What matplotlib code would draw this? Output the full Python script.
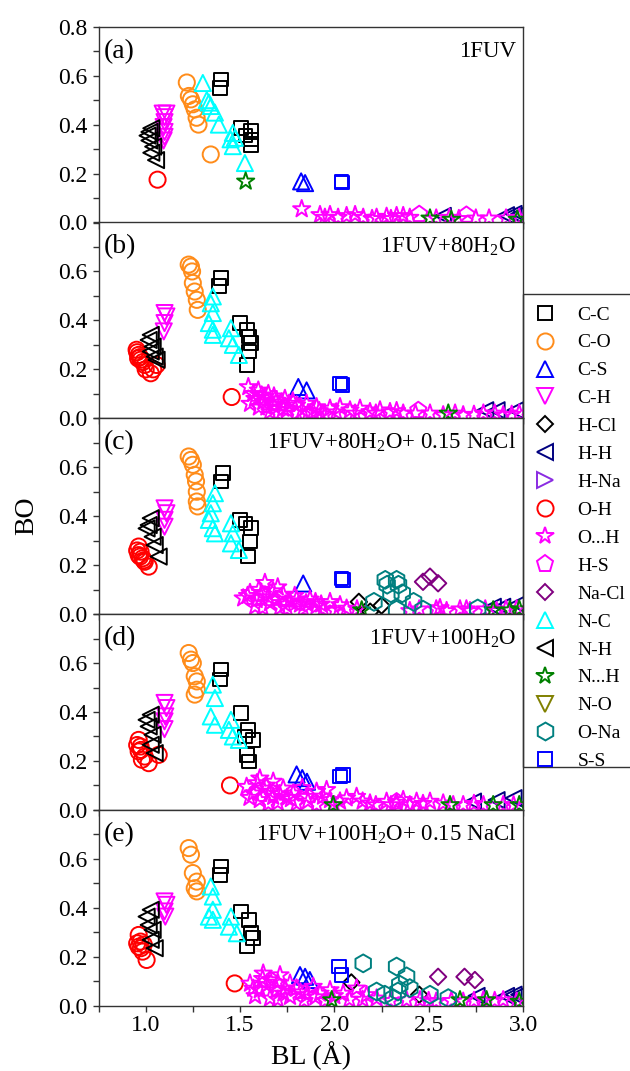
"""
Bond order vs bond length for 1FUV in vacuum, water and saline water
"""
import matplotlib
matplotlib.use('Agg')
import matplotlib.pyplot as plt
from matplotlib.lines import Line2D
from matplotlib.patches import Rectangle
from matplotlib.ticker import MultipleLocator, FormatStrFormatter

plt.rcParams['font.family'] = ['Liberation Serif', 'DejaVu Serif']
plt.rcParams['mathtext.fontset'] = 'custom'
plt.rcParams['mathtext.rm'] = 'Liberation Serif'
plt.rcParams['mathtext.it'] = 'Liberation Serif:italic'

PANEL_TAGS = ['(a)', '(b)', '(c)', '(d)', '(e)']
SYSTEMS = ['1FUV', '1FUV+80H$_2$O', '1FUV+80H$_2$O+ 0.15 NaCl',
           '1FUV+100H$_2$O', '1FUV+100H$_2$O+ 0.15 NaCl']

BONDS = ['C-C', 'C-O', 'C-S', 'C-H', 'H-Cl', 'H-H', 'H-Na', 'O-H', 'O...H',
         'H-S', 'Na-Cl', 'N-C', 'N-H', 'N...H', 'N-O', 'O-Na', 'S-S']

# (BL, BO) pairs, one list per panel (a)..(e)
CC = [
    [(1.40, 0.585), (1.395, 0.55), (1.505, 0.387), (1.53, 0.355), (1.558, 0.375), (1.558, 0.34), (1.558, 0.315)],
    [(1.40, 0.573), (1.39, 0.54), (1.50, 0.389), (1.537, 0.362), (1.548, 0.334), (1.558, 0.307), (1.548, 0.273), (1.537, 0.218)],
    [(1.41, 0.576), (1.40, 0.542), (1.50, 0.385), (1.53, 0.371), (1.558, 0.351), (1.552, 0.296), (1.543, 0.235)],
    [(1.40, 0.573), (1.395, 0.532), (1.505, 0.396), (1.543, 0.327), (1.526, 0.30), (1.569, 0.286), (1.537, 0.225), (1.548, 0.198)],
    [(1.40, 0.569), (1.395, 0.535), (1.505, 0.385), (1.548, 0.351), (1.558, 0.296), (1.537, 0.241), (1.569, 0.276)],
]
CO = [
    [(1.218, 0.572), (1.229, 0.517), (1.24, 0.503), (1.25, 0.483), (1.26, 0.462), (1.27, 0.428), (1.28, 0.40), (1.345, 0.278)],
    [(1.228, 0.628), (1.24, 0.62), (1.246, 0.60), (1.25, 0.553), (1.26, 0.518), (1.271, 0.484), (1.276, 0.443)],
    [(1.228, 0.644), (1.24, 0.63), (1.25, 0.61), (1.26, 0.569), (1.267, 0.542), (1.271, 0.50), (1.271, 0.46), (1.276, 0.44)],
    [(1.228, 0.641), (1.24, 0.614), (1.25, 0.60), (1.26, 0.546), (1.271, 0.525), (1.271, 0.491), (1.26, 0.471)],
    [(1.228, 0.644), (1.24, 0.617), (1.25, 0.542), (1.271, 0.507), (1.26, 0.48), (1.271, 0.467)],
]
CS = [
    [(1.824, 0.168), (1.845, 0.161)],
    [(1.809, 0.128), (1.853, 0.114)],
    [(1.835, 0.125)],
    [(1.80, 0.145), (1.83, 0.13), (1.855, 0.115)],
    [(1.818, 0.125), (1.845, 0.118), (1.87, 0.105)],
]
CH = [
    [(1.09, 0.445), (1.11, 0.445), (1.10, 0.43), (1.10, 0.41), (1.095, 0.39), (1.10, 0.37), (1.10, 0.35), (1.095, 0.335)],
    [(1.10, 0.43), (1.11, 0.416), (1.10, 0.389), (1.096, 0.355)],
    [(1.10, 0.432), (1.11, 0.412), (1.10, 0.385), (1.10, 0.357)],
    [(1.10, 0.437), (1.11, 0.416), (1.104, 0.382), (1.10, 0.362), (1.10, 0.33)],
    [(1.10, 0.426), (1.11, 0.412), (1.10, 0.385), (1.104, 0.364)],
]
HCL = [
    [],
    [],
    [(2.13, 0.05), (2.25, 0.035), (2.19, 0.01)],
    [],
    [(2.09, 0.095), (2.45, 0.045)],
]
HH = [
    [(2.575, 0.027), (2.91, 0.03), (2.95, 0.035), (2.98, 0.035)],
    [(2.80, 0.033), (2.86, 0.033), (2.96, 0.033)],
    [(2.84, 0.03), (2.89, 0.03), (2.97, 0.04)],
    [(2.735, 0.034), (2.86, 0.04), (2.95, 0.048)],
    [(2.754, 0.04), (2.91, 0.04), (2.95, 0.045), (2.98, 0.045)],
]
HNA = [[], [], [], [], []]
OH = [
    [(1.063, 0.175)],
    [(0.952, 0.28), (0.963, 0.259), (0.973, 0.239), (0.995, 0.218), (1.027, 0.184), (1.058, 0.218), (0.96, 0.245),
     (0.955, 0.27), (0.97, 0.25), (0.985, 0.23), (1.0, 0.2), (1.04, 0.2), (1.456, 0.087)],
    [(0.963, 0.276), (0.973, 0.255), (0.963, 0.241), (0.984, 0.228), (0.995, 0.214), (1.016, 0.194), (0.955, 0.26),
     (0.97, 0.235), (0.99, 0.22)],
    [(0.963, 0.286), (0.973, 0.259), (0.963, 0.239), (0.995, 0.218), (1.016, 0.191), (1.069, 0.225), (0.98, 0.205),
     (0.955, 0.265), (0.975, 0.245), (1.447, 0.10)],
    [(0.963, 0.289), (0.973, 0.262), (0.963, 0.241), (0.984, 0.221), (1.005, 0.187), (0.955, 0.255), (0.975, 0.235),
     (0.99, 0.25), (1.472, 0.091)],
]
OdH = [
    [(1.827, 0.055), (1.924, 0.031), (1.977, 0.031), (2.065, 0.027), (2.11, 0.031), (2.153, 0.02), (2.224, 0.02),
     (2.277, 0.024), (2.33, 0.027), (2.365, 0.027), (2.40, 0.02), (2.54, 0.017), (2.61, 0.02), (2.66, 0.015),
     (2.75, 0.017), (2.82, 0.017), (2.91, 0.017), (2.98, 0.02), (1.95, 0.02), (2.02, 0.02), (2.20, 0.015), (2.30, 0.015)],
    [(1.544, 0.128), (1.597, 0.114), (1.65, 0.10), (1.615, 0.094), (1.553, 0.06), (1.579, 0.08), (1.623, 0.067),
     (1.694, 0.073), (1.738, 0.08), (1.676, 0.053), (1.729, 0.04), (1.80, 0.053), (1.853, 0.06), (1.906, 0.046),
     (1.888, 0.026), (1.977, 0.04), (2.03, 0.046), (2.083, 0.033), (2.136, 0.04), (2.189, 0.026), (2.242, 0.033),
     (2.295, 0.026), (2.365, 0.02), (2.507, 0.02), (2.577, 0.013), (2.683, 0.013), (2.79, 0.02), (2.895, 0.013),
     (2.98, 0.02), (1.80, 0.02), (1.659, 0.026), (1.60, 0.045), (1.70, 0.02), (1.76, 0.06), (1.83, 0.035),
     (1.95, 0.015), (2.43, 0.02), (2.64, 0.02), (2.74, 0.015), (2.85, 0.02), (2.94, 0.015),
     (1.57, 0.10), (1.63, 0.085), (1.68, 0.09), (1.72, 0.065), (1.78, 0.07), (1.64, 0.045), (1.75, 0.035),
     (1.86, 0.02), (1.92, 0.03), (2.01, 0.025), (2.11, 0.02), (2.22, 0.02), (2.33, 0.03)],
    [(1.632, 0.128), (1.553, 0.087), (1.517, 0.065), (1.588, 0.058), (1.676, 0.094), (1.729, 0.08), (1.659, 0.046),
     (1.765, 0.053), (1.818, 0.04), (1.871, 0.06), (1.906, 0.033), (1.977, 0.05), (2.03, 0.037), (2.065, 0.023),
     (1.712, 0.026), (1.835, 0.02), (1.941, 0.02), (2.54, 0.02), (2.595, 0.013), (2.666, 0.02), (2.719, 0.013),
     (2.86, 0.013), (2.966, 0.02), (2.40, 0.013), (1.60, 0.10), (1.58, 0.03), (1.65, 0.07), (1.70, 0.11),
     (1.79, 0.075), (1.85, 0.045), (1.75, 0.02), (2.0, 0.015), (2.12, 0.02), (2.45, 0.02), (2.80, 0.02), (2.91, 0.02),
     (1.54, 0.075), (1.62, 0.08), (1.69, 0.06), (1.74, 0.04), (1.62, 0.025), (1.80, 0.06), (1.90, 0.05),
     (1.93, 0.04), (2.56, 0.025), (2.70, 0.02)],
    [(1.605, 0.129), (1.535, 0.095), (1.676, 0.116), (1.57, 0.068), (1.623, 0.088), (1.729, 0.088), (1.676, 0.054),
     (1.782, 0.068), (1.853, 0.054), (1.906, 0.075), (1.959, 0.082), (1.977, 0.041), (2.065, 0.048), (2.118, 0.054),
     (2.189, 0.027), (2.277, 0.034), (2.365, 0.041), (2.436, 0.034), (2.507, 0.034), (2.577, 0.027), (2.683, 0.02),
     (2.79, 0.02), (2.895, 0.02), (1.80, 0.027), (1.906, 0.02), (1.605, 0.041), (1.55, 0.05), (1.64, 0.10),
     (1.70, 0.03), (1.75, 0.05), (1.83, 0.09), (2.0, 0.02), (2.15, 0.035), (2.22, 0.02), (2.30, 0.02), (2.40, 0.02),
     (2.63, 0.02), (2.74, 0.025), (2.95, 0.02),
     (1.59, 0.11), (1.66, 0.075), (1.71, 0.065), (1.77, 0.045), (1.65, 0.025), (1.86, 0.035), (1.94, 0.055),
     (2.03, 0.035), (2.33, 0.03), (2.47, 0.025)],
    [(1.623, 0.132), (1.712, 0.125), (1.553, 0.091), (1.659, 0.105), (1.765, 0.091), (1.605, 0.064), (1.694, 0.064),
     (1.80, 0.071), (1.888, 0.078), (1.924, 0.05), (1.853, 0.044), (1.765, 0.037), (1.659, 0.03), (1.977, 0.064),
     (2.047, 0.05), (2.118, 0.071), (2.171, 0.044), (2.224, 0.03), (2.383, 0.023), (2.454, 0.023), (2.54, 0.017),
     (2.683, 0.017), (2.79, 0.023), (2.895, 0.023), (2.966, 0.017), (1.58, 0.04), (1.62, 0.11), (1.73, 0.05),
     (1.84, 0.02), (1.95, 0.02), (2.08, 0.025), (2.30, 0.02), (2.62, 0.02), (2.74, 0.02), (2.85, 0.02),
     (1.57, 0.07), (1.64, 0.085), (1.70, 0.095), (1.74, 0.07), (1.82, 0.055), (1.90, 0.035), (1.70, 0.025),
     (2.00, 0.04), (2.15, 0.025), (2.50, 0.02)],
]
HS = [
    [(2.45, 0.034), (2.70, 0.031)],
    [(2.445, 0.033)],
    [],
    [(2.33, 0.034)],
    [],
]
NACL = [
    [],
    [],
    [(2.47, 0.132), (2.507, 0.153), (2.55, 0.126)],
    [],
    [(2.55, 0.118), (2.69, 0.118), (2.745, 0.105)],
]
NC = [
    [(1.303, 0.57), (1.324, 0.50), (1.335, 0.49), (1.345, 0.476), (1.367, 0.449), (1.388, 0.40), (1.462, 0.366),
     (1.473, 0.346), (1.45, 0.34), (1.462, 0.312), (1.526, 0.243)],
    [(1.356, 0.498), (1.345, 0.47), (1.356, 0.43), (1.335, 0.389), (1.356, 0.362), (1.356, 0.341), (1.452, 0.368),
     (1.441, 0.327), (1.462, 0.30), (1.494, 0.259)],
    [(1.367, 0.494), (1.356, 0.453), (1.345, 0.412), (1.335, 0.385), (1.356, 0.351), (1.367, 0.33), (1.452, 0.371),
     (1.462, 0.33), (1.452, 0.289), (1.494, 0.262)],
    [(1.356, 0.512), (1.367, 0.457), (1.345, 0.382), (1.367, 0.348), (1.452, 0.368), (1.441, 0.327), (1.462, 0.30),
     (1.494, 0.286)],
    [(1.345, 0.487), (1.356, 0.446), (1.356, 0.392), (1.335, 0.364), (1.356, 0.351), (1.452, 0.364), (1.441, 0.323),
     (1.483, 0.296)],
]
NH = [
    [(1.03, 0.385), (1.02, 0.37), (1.01, 0.355), (1.02, 0.335), (1.04, 0.31), (1.03, 0.285), (1.055, 0.255)],
    [(1.027, 0.341), (1.016, 0.32), (1.037, 0.293), (1.027, 0.273), (1.048, 0.252), (1.058, 0.239)],
    [(1.027, 0.392), (1.016, 0.364), (1.005, 0.35), (1.037, 0.316), (1.048, 0.282), (1.069, 0.235)],
    [(1.027, 0.389), (1.005, 0.368), (1.016, 0.341), (1.037, 0.307), (1.027, 0.266), (1.048, 0.232)],
    [(1.027, 0.392), (1.005, 0.364), (1.016, 0.33), (1.037, 0.31), (1.027, 0.269), (1.048, 0.235)],
]
NdH = [
    [(1.53, 0.168), (2.507, 0.017), (2.62, 0.012), (2.97, 0.012)],
    [(2.604, 0.02)],
    [(2.145, 0.016), (2.842, 0.016), (2.93, 0.016), (2.98, 0.02)],
    [(1.994, 0.02), (2.613, 0.02), (2.842, 0.02), (2.98, 0.02)],
    [(1.986, 0.023), (2.666, 0.023), (2.807, 0.023), (2.98, 0.017)],
]
NO = [[], [], [], [], []]
ONA = [
    [],
    [],
    [(2.27, 0.14), (2.33, 0.14), (2.28, 0.12), (2.34, 0.12), (2.30, 0.085), (2.36, 0.085), (2.21, 0.05),
     (2.42, 0.05), (2.33, 0.018), (2.47, 0.018), (2.76, 0.023)],
    [],
    [(2.153, 0.173), (2.33, 0.16), (2.383, 0.12), (2.347, 0.086), (2.40, 0.072), (2.224, 0.058), (2.268, 0.045),
     (2.312, 0.031), (2.507, 0.045), (2.604, 0.031), (2.337, 0.058)],
]
SS = [
    [(2.037, 0.168), (2.04, 0.163)],
    [(2.03, 0.142), (2.044, 0.135)],
    [(2.037, 0.146), (2.047, 0.139)],
    [(2.03, 0.136), (2.047, 0.143)],
    [(2.026, 0.16), (2.037, 0.126)],
]

SERIES = dict(zip(BONDS, [CC, CO, CS, CH, HCL, HH, HNA, OH, OdH, HS, NACL, NC, NH, NdH, NO, ONA, SS]))

# marker, colour, marker area
STYLE = {
    'C-C': ('s', '#000000', 95),
    'C-O': ('o', '#FF8C1A', 135),
    'C-S': ('^', '#0000FF', 135),
    'C-H': ('v', '#FF00FF', 135),
    'H-Cl': ('D', '#000000', 70),
    'H-H': ('<', '#000080', 135),
    'H-Na': ('>', '#8A2BE2', 135),
    'O-H': ('o', '#FF0000', 135),
    'O...H': ('*', '#FF00FF', 170),
    'H-S': ('p', '#FF00FF', 150),
    'Na-Cl': ('D', '#800080', 70),
    'N-C': ('^', '#00FFFF', 135),
    'N-H': ('<', '#000000', 135),
    'N...H': ('*', '#008000', 170),
    'N-O': ('v', '#808000', 135),
    'O-Na': ('h', '#008080', 165),
    'S-S': ('s', '#0000FF', 95),
}

FIG_W, FIG_H = 630, 1071
LEFT, RIGHT = 98.5, 523.0
PANEL_TOP, PANEL_H = 26.7, 195.8
LEG_TOP, LEG_BOTTOM = 294.3, 766.7
SPINE_COLOR = '#333333'


def style_axis(ax, idx, n):
    ax.set_xlim(0.75, 3.0)
    ax.set_ylim(0.0, 0.8)
    ax.xaxis.set_major_locator(MultipleLocator(0.5))
    ax.xaxis.set_minor_locator(MultipleLocator(0.25))
    if idx == 0:
        ax.set_yticks([0.0, 0.2, 0.4, 0.6, 0.8])
    else:
        ax.set_yticks([0.0, 0.2, 0.4, 0.6])
    ax.yaxis.set_minor_locator(MultipleLocator(0.1))
    ax.yaxis.set_major_formatter(FormatStrFormatter('%.1f'))
    ax.xaxis.set_major_formatter(FormatStrFormatter('%.1f'))
    ax.tick_params(which='both', direction='out', length=4, width=1.0, color=SPINE_COLOR,
                   labelsize=17, top=False, right=False)
    ax.tick_params(axis='y', pad=4)
    ax.tick_params(axis='x', pad=2.5)
    if idx < n - 1:
        ax.tick_params(axis='x', labelbottom=False)
    for sp in ax.spines.values():
        sp.set_color(SPINE_COLOR)
        sp.set_linewidth(1.0)


def main():
    fig = plt.figure(figsize=(FIG_W / 100, FIG_H / 100), dpi=100)
    n = len(PANEL_TAGS)
    for i in range(n):
        top = PANEL_TOP + i * PANEL_H
        rect = [LEFT / FIG_W, 1 - (top + PANEL_H) / FIG_H, (RIGHT - LEFT) / FIG_W, PANEL_H / FIG_H]
        ax = fig.add_axes(rect)

        for z, bond in enumerate(BONDS):
            pts = SERIES[bond][i]
            if not pts:
                continue
            marker, color, size = STYLE[bond]
            xs = [p[0] for p in pts]
            ys = [p[1] for p in pts]
            ax.scatter(xs, ys, marker=marker, s=size, facecolors='none', edgecolors=color,
                       linewidths=1.4, zorder=2 + z * 0.01)

        style_axis(ax, i, n)
        ax.text(0.013, 0.875, PANEL_TAGS[i], transform=ax.transAxes, fontsize=20,
                ha='left', va='center')
        ax.text(0.984, 0.875, SYSTEMS[i], transform=ax.transAxes, fontsize=16.5,
                ha='right', va='center')

    fig.text(0.043, 1 - (PANEL_TOP + n * PANEL_H / 2) / FIG_H, 'BO', rotation=90,
             fontsize=20, ha='center', va='center')
    fig.text((LEFT + RIGHT) / 2 / FIG_W, 0.014, 'BL (Å)', fontsize=20, ha='center', va='center')

    # Legend box to the right of the panels, open on the right side
    frame = Rectangle((RIGHT / FIG_W, 1 - LEG_BOTTOM / FIG_H), 0.3, (LEG_BOTTOM - LEG_TOP) / FIG_H,
                      transform=fig.transFigure, fill=False, edgecolor=SPINE_COLOR,
                      linewidth=1.0, clip_on=False)
    fig.patches.append(frame)

    handles = []
    for bond in BONDS:
        marker, color, size = STYLE[bond]
        handles.append(Line2D([], [], ls='none', marker=marker, markersize=size ** 0.5,
                              markerfacecolor='none', markeredgecolor=color, markeredgewidth=1.4,
                              label=bond))
    fig.legend(handles=handles, loc='upper left',
               bbox_to_anchor=(RIGHT / FIG_W, 1 - (LEG_TOP - 1) / FIG_H),
               borderaxespad=0.0, fontsize=14, frameon=False,
               borderpad=0.65, handlelength=1.0, handletextpad=1.15, labelspacing=0.53)

    fig.savefig('out.png', dpi=100)
    plt.close(fig)


if __name__ == "__main__":
    main()
